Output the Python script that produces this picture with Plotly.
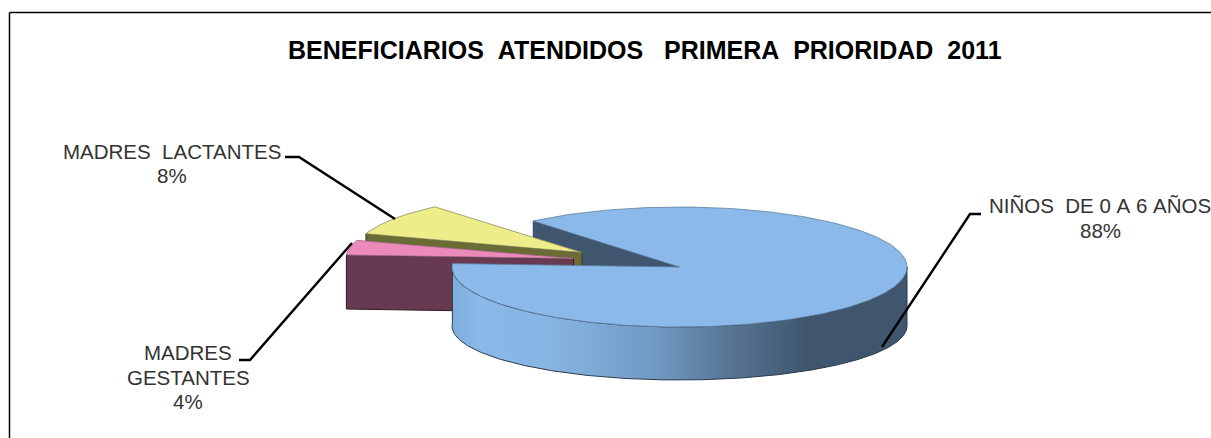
import numpy as np
import plotly.graph_objects as go

# ---- data ----
labels = ["NIÑOS  DE 0 A 6 AÑOS", "MADRES  GESTANTES", "MADRES  LACTANTES"]
values = [88, 4, 8]
title_text = "BENEFICIARIOS  ATENDIDOS   PRIMERA  PRIORIDAD  2011"

# ---- pie projection (pixels of the 1211x438 canvas) ----
RX, RY_TOP, RY_BOT, DEPTH = 227.5, 60.0, 54.0, 59.0
DEPTH_SMALL = 54.0
START = 130.0  # clockwise start angle of the first slice, degrees
PERSPECTIVE = 3.5  # angular distortion of the tilted pie, degrees
CENTERS = [(679.5, 267.0), (573.5, 258.5), (582.0, 252.5)]

sweeps = [v / sum(values) * 360 for v in values]
main_from, main_to = START, START - sweeps[0]
yellow_from, yellow_to = START, START + sweeps[2]
pink_from, pink_to = yellow_to, yellow_to + sweeps[1]


def warp(a):
    return a + PERSPECTIVE * np.sin(np.radians(2 * (a - START)))


def arc(c, a0, a1, ry=RY_TOP, dy=0.0, n=240, warped=True):
    a = np.linspace(a0, a1, n)
    t = np.radians(warp(a) if warped else a)
    return c[0] + RX * np.cos(t), c[1] + dy - ry * np.sin(t)


def wedge(c, a0, a1):
    x, y = arc(c, a0, a1)
    return np.r_[c[0], x, c[0]], np.r_[c[1], y, c[1]]


def cut_face(c, angle, depth):
    x, y = arc(c, angle, angle, n=1)
    px = np.r_[x, c[0], c[0], x, x]
    py = np.r_[y, c[1], c[1] + depth, y + depth, y]
    return px, py


def poly(x, y, fill, line, width=1.0, **kw):
    return go.Scatter(x=x, y=y, mode="lines", fill="toself", fillcolor=fill,
                      line=dict(color=line, width=width), hoverinfo="skip",
                      showlegend=False, **kw)


traces = []
cm, cg, cl = CENTERS

# back cut face of the large slice
traces.append(poly(*cut_face(cm, main_from, DEPTH), "#3F566E", "#33465A"))
# yellow slice
traces.append(poly(*cut_face(cl, yellow_to, DEPTH_SMALL), "#6B6B35", "#3a3a20"))
traces.append(poly(*wedge(cl, yellow_from, yellow_to), "#EDED8A", "#8d8d60", 0.8))
# pink slice
traces.append(poly(*cut_face(cg, pink_to, DEPTH_SMALL), "#673A51", "#2e1a25"))
traces.append(poly(*wedge(cg, pink_from, pink_to), "#EC8ABC", "#a06a86", 0.8))
# rim of the large slice
rim_start = float(warp(main_to + 360))
xa, ya = arc(cm, rim_start, 360, warped=False)
xb, yb = arc(cm, 360, rim_start, ry=RY_BOT, dy=DEPTH, warped=False)
traces.append(go.Scatter(
    x=np.r_[xa, xb, xa[0]], y=np.r_[ya, yb, ya[0]], mode="lines", fill="toself",
    fillgradient=dict(type="horizontal", colorscale=[
        [0.0, "#7FAEDD"], [0.06, "#8AB9E9"], [0.22, "#86B4E3"], [0.45, "#7099C2"],
        [0.62, "#557391"], [0.78, "#3F566E"], [1.0, "#3F566E"]]),
    line=dict(color="#2b3a4c", width=1), hoverinfo="skip", showlegend=False))
# top of the large slice
traces.append(poly(*wedge(cm, main_from, main_to), "#8AB9EA", "#5f7f9f", 0.8))

fig = go.Figure(traces)

# leader lines
LEADERS = [
    "M 882 347 L 970 214 L 981 214",
    "M 239 360 L 250 360 L 352 243",
    "M 285 157 L 299 157 L 395 219",
]
shapes = [dict(type="path", path=p, xref="x", yref="y",
               line=dict(color="black", width=2.4)) for p in LEADERS]
# chart frame: top and left edges only
shapes.append(dict(type="line", xref="x", yref="y", x0=9.5, x1=1211, y0=12.5, y1=12.5,
                   line=dict(color="black", width=1.5)))
shapes.append(dict(type="line", xref="x", yref="y", x0=9.5, x1=9.5, y0=12.5, y1=438,
                   line=dict(color="black", width=1.5)))


def note(text, x, y, size=20.5, color="#333333", bold=False):
    return dict(text=f"<b>{text}</b>" if bold else text, x=x, y=y, xref="x", yref="y",
                showarrow=False, xanchor="center", yanchor="middle",
                font=dict(family="Liberation Sans", size=size, color=color))


def nb(s):
    return s.replace(" ", "\u00a0")


annots = [note(nb(title_text), 645, 50, size=25, color="black", bold=True)]
annots += [note(nb(labels[0]), 1100, 205.5), note(f"{values[0]}%", 1100, 230.5)]
annots += [note(nb(labels[2]), 171.5, 151), note(f"{values[2]}%", 171.5, 175.5)]
w1, w2 = labels[1].split("  ")
annots += [note(w1, 188, 352), note(w2, 188, 377), note(f"{values[1]}%", 188, 401)]

fig.update_layout(
    width=1211, height=438, margin=dict(l=0, r=0, t=0, b=0),
    paper_bgcolor="white", plot_bgcolor="white",
    xaxis=dict(range=[0, 1211], visible=False, fixedrange=True),
    yaxis=dict(range=[438, 0], visible=False, fixedrange=True),
    shapes=shapes, annotations=annots, showlegend=False,
)
fig.write_html("out.html", config={"displayModeBar": False},
               post_script="document.body.style.margin='0';document.body.style.overflow='hidden';")
